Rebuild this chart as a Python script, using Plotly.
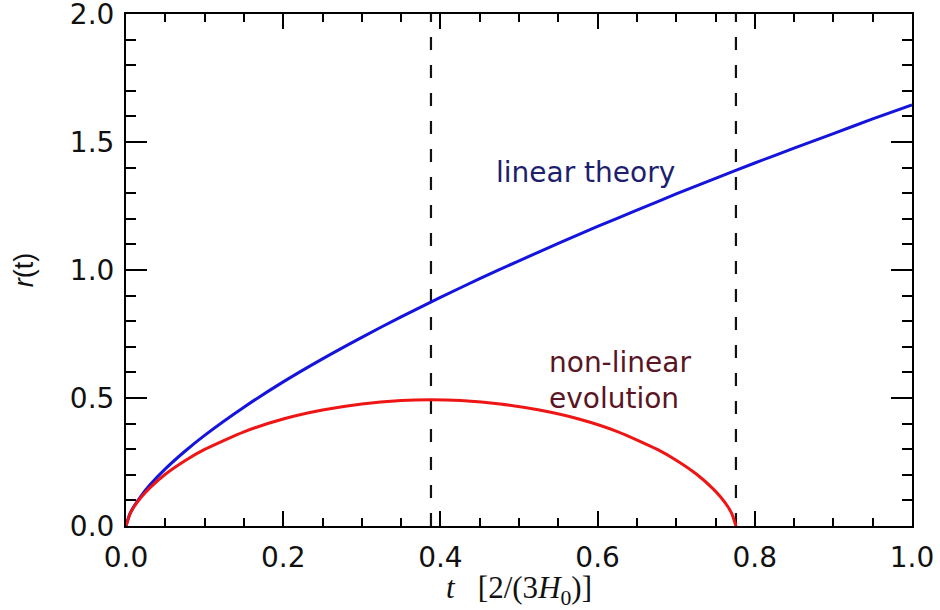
import plotly.graph_objects as go

# ---- data ----
t_linear = [0.0, 0.005, 0.01, 0.02, 0.03, 0.05, 0.075, 0.1, 0.15, 0.2, 0.25, 0.3, 0.35,
            0.4, 0.45, 0.5, 0.55, 0.6, 0.65, 0.7, 0.75, 0.8, 0.85, 0.9, 0.95, 1.0]
r_linear = [0.0, 0.048, 0.076, 0.121, 0.159, 0.223, 0.292, 0.354, 0.464, 0.563, 0.653, 0.737, 0.817,
            0.893, 0.966, 1.036, 1.104, 1.170, 1.234, 1.297, 1.358, 1.418, 1.476, 1.533, 1.590, 1.645]

t_nonlin = [0.0, 0.005, 0.01, 0.02, 0.03, 0.05, 0.075, 0.1, 0.15, 0.2, 0.25, 0.3, 0.35, 0.388,
            0.426, 0.476, 0.526, 0.576, 0.626, 0.676, 0.701, 0.726, 0.746, 0.756, 0.766, 0.771, 0.776]
r_nonlin = [0.0, 0.046, 0.074, 0.115, 0.148, 0.202, 0.255, 0.299, 0.368, 0.418, 0.453, 0.477, 0.490, 0.493,
            0.490, 0.477, 0.453, 0.418, 0.368, 0.299, 0.255, 0.202, 0.148, 0.115, 0.074, 0.046, 0.0]

t_markers = [0.388, 0.776]          # turnaround and collapse times (dashed lines)
y_span = [0.0, 2.0]

x_ticks = [0.0, 0.2, 0.4, 0.6, 0.8, 1.0]
y_ticks = [0.0, 0.5, 1.0, 1.5, 2.0]

fig = go.Figure()

for tm in t_markers:
    fig.add_trace(go.Scatter(x=[tm, tm], y=y_span, mode="lines",
                             line=dict(color="#111111", width=2.2, dash="13px,15px"),
                             showlegend=False, hoverinfo="skip"))

fig.add_trace(go.Scatter(x=t_linear, y=r_linear, mode="lines",
                         line=dict(color="#1414dc", width=3, shape="spline", smoothing=0.6),
                         showlegend=False))
fig.add_trace(go.Scatter(x=t_nonlin, y=r_nonlin, mode="lines",
                         line=dict(color="#ee1515", width=3, shape="spline", smoothing=0.6),
                         showlegend=False))

fig.add_annotation(x=0.584, y=1.379, text="linear theory", showarrow=False,
                   font=dict(family="DejaVu Sans", size=28, color="#1e1e6e"),
                   xanchor="center", yanchor="middle")
fig.add_annotation(x=0.536, y=0.57, text="non-linear<br>evolution", showarrow=False,
                   font=dict(family="DejaVu Sans", size=28, color="#5a1525"),
                   xanchor="left", yanchor="middle", align="left")

axis_common = dict(showline=True, linecolor="black", linewidth=2, mirror="ticks",
                   ticks="inside", tickcolor="black", tickwidth=2, showgrid=False,
                   zeroline=False, tickformat=".1f", automargin=False,
                   ticklabeloverflow="allow",
                   tickfont=dict(family="DejaVu Sans", size=28, color="#111111"))

fig.update_xaxes(range=[0, 1], tickvals=x_ticks, ticklen=15, ticklabelstandoff=5,
                 minor=dict(dtick=0.05, ticks="inside", ticklen=8, tickcolor="black", tickwidth=2),
                 title=dict(text="<i>t</i>&nbsp;&nbsp;&nbsp;[2/(3<i>H</i><sub>0</sub>)]",
                            font=dict(family="Liberation Serif", size=31, color="#111111"),
                            standoff=0),
                 **axis_common)
fig.update_yaxes(range=[0, 2], tickvals=y_ticks, ticklen=21, ticklabelstandoff=4,
                 minor=dict(dtick=0.1, ticks="inside", ticklen=10, tickcolor="black", tickwidth=2),
                 title=dict(text="<i>r</i>(t)",
                            font=dict(family="Liberation Sans", size=27, color="#111111"),
                            standoff=28),
                 **axis_common)

fig.update_layout(width=940, height=610, margin=dict(l=126, r=28, t=14, b=84, autoexpand=False),
                  paper_bgcolor="white", plot_bgcolor="white", showlegend=False)

fig.write_html("out.html", config={"displayModeBar": False},
               post_script="document.body.style.margin='0px';")
